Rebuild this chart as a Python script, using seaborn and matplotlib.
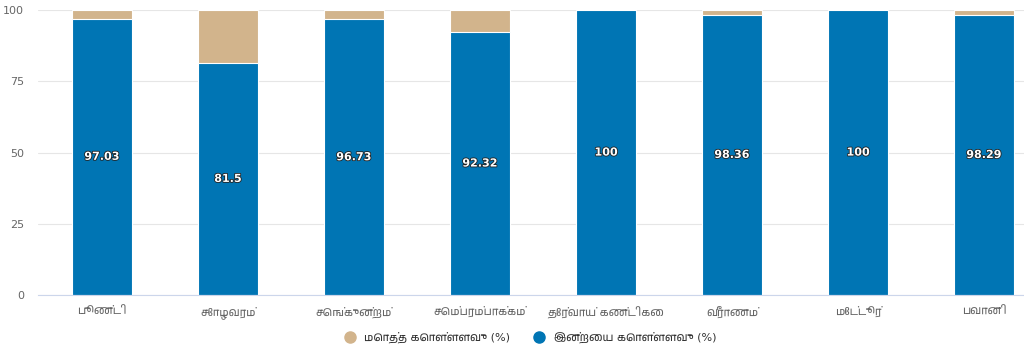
import seaborn as sns
import matplotlib.pyplot as plt
from matplotlib import font_manager
from matplotlib.lines import Line2D
import matplotlib.patheffects as pe
import pandas as pd

lakes = ['பூண்டி', 'சோழவரம்', 'செங்குன்றம்', 'செம்பரம்பாக்கம்',
         'தேர்வாய் கண்டிகை', 'வீராணம்', 'மேட்டூர்', 'பவானி']
today = [97.03, 81.5, 96.73, 92.32, 100, 98.36, 100, 98.29]
total = [100, 100, 100, 100, 100, 100, 100, 100]
labels = ['97.03', '81.5', '96.73', '92.32', '100', '98.36', '100', '98.29']

# find a font that has Tamil glyphs, if any
tamil = []
for f in font_manager.fontManager.ttflist:
    if 'Tamil' in f.name or 'Lohit' in f.name or 'Latha' in f.name:
        tamil.append(f.name)
sns.set_style('white')
plt.rcParams['font.family'] = ['DejaVu Sans'] + list(dict.fromkeys(tamil))

df = pd.DataFrame({'lake': lakes, 'today': today, 'total': total})

fig, ax = plt.subplots(figsize=(10.24, 3.59), dpi=100)
fig.subplots_adjust(left=0.037, right=1.0, top=0.972, bottom=0.178)

sns.barplot(data=df, x='lake', y='total', color='#D2B48C', width=0.476,
            saturation=1, ax=ax, edgecolor='white', linewidth=0.8)
sns.barplot(data=df, x='lake', y='today', color='#0075B4', width=0.476,
            saturation=1, ax=ax, edgecolor='white', linewidth=0.8)

for i, v in enumerate(today):
    ax.text(i, v / 2, labels[i], ha='center', va='center', color='white',
            fontsize=8, fontweight='bold', family='DejaVu Sans',
            path_effects=[pe.withStroke(linewidth=1.2, foreground='#222222')])

ax.set_ylim(0, 100)
ax.set_yticks([0, 25, 50, 75, 100])
ax.set_xlim(-0.508, 7.317)
ax.grid(axis='y', color='#e6e6e6', linewidth=0.8)
ax.set_axisbelow(True)
for s in ['top', 'right', 'left']:
    ax.spines[s].set_visible(False)
ax.spines['bottom'].set_color('#ccd6eb')
ax.tick_params(axis='both', length=0, colors='#666666', labelsize=8)
ax.tick_params(axis='x', pad=8)
ax.tick_params(axis='y', pad=10)
ax.set_xlabel('')
ax.set_ylabel('')

handles = [Line2D([], [], marker='o', ls='', color='#D2B48C', markersize=8),
           Line2D([], [], marker='o', ls='', color='#0075B4', markersize=8)]
fig.legend(handles, ['மொத்த கொள்ளளவு (%)', 'இன்றைய கொள்ளளவு (%)'],
           loc='center', bbox_to_anchor=(0.515, 0.06), ncol=2, frameon=False,
           fontsize=8, handletextpad=0.3, columnspacing=1.6, labelcolor='#333333')

fig.savefig('out.png', dpi=100)
